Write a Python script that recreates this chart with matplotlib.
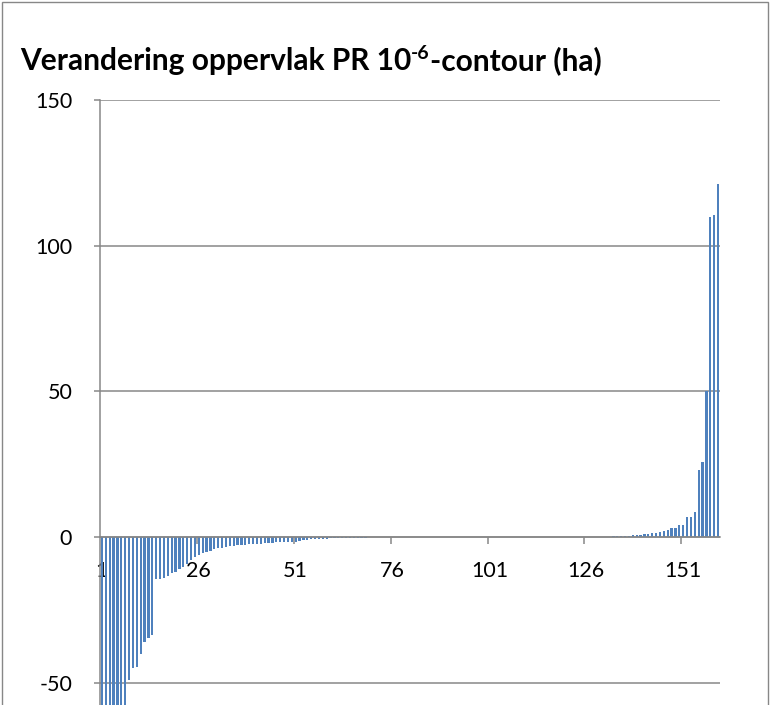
import matplotlib
matplotlib.use("Agg")
import matplotlib.pyplot as plt
from matplotlib.patches import Rectangle

# ---- data -------------------------------------------------------------
neg_values = [
    -118, -104, -92, -85, -76, -68, -61,
    -49.0, -45.0, -44.5, -40.0, -36.0, -34.6, -33.6,
    -14.4, -14.3, -14.0, -13.4, -12.4, -11.9, -11.0, -10.2, -9.3, -7.9,
    -6.7, -6.2, -5.6, -5.0, -4.7, -4.2, -3.8, -3.7, -3.3, -3.1,
    -2.9, -2.7, -2.7, -2.6, -2.5, -2.4, -2.3, -2.2, -2.1, -2.0,
    -1.9, -1.8, -1.8, -1.7, -1.6, -1.5,
    -1.5, -1.2, -1.0, -0.9, -0.8, -0.7, -0.6, -0.5, -0.5, -0.4,
    -0.4, -0.35, -0.3, -0.3, -0.25, -0.2, -0.2, -0.15, -0.15, -0.1,
    -0.1, -0.08, -0.05,
]
zero_values = [
    0, 0, 0, 0, 0, 0, 0, 0, 0, 0, 0, 0, 0, 0,
    0, 0, 0, 0, 0, 0, 0, 0, 0, 0, 0, 0, 0, 0,
    0, 0, 0, 0, 0, 0, 0, 0, 0, 0, 0, 0, 0, 0,
    0, 0, 0, 0, 0, 0, 0, 0, 0, 0, 0, 0, 0, 0,
]
pos_values = [
    0.1, 0.15, 0.2, 0.25, 0.3, 0.35, 0.4, 0.5, 0.6, 0.7,
    0.8, 1.0, 1.15, 1.4, 1.4, 1.6, 2.05, 2.4, 3.0, 3.0,
    4.0, 4.0, 6.8, 6.8, 8.7, 23.0, 25.8, 50.1, 110.0, 110.4, 121.1,
]
values = neg_values + zero_values + pos_values
categories = list(range(1, len(values) + 1))
xtick_labels = ["1", "26", "51", "76", "101", "126", "151"]
ytick_values = [-50, 0, 50, 100, 150]

# ---- style ------------------------------------------------------------
W, H = 770, 705
FONT = ["Lato", "DejaVu Sans"]
BAR = "#4F81BD"
GRID = "#878787"

fig = plt.figure(figsize=(W / 100, H / 100), dpi=100)
ax = fig.add_axes([100 / W, 0.0, 620 / W, (H - 100) / H])

ax.bar(categories, values, width=0.55, color=BAR, zorder=3, linewidth=0)
ax.set_xlim(0.5, len(values) + 0.5)
ax.set_ylim(-57.6, 150)

ax.set_yticks(ytick_values)
ax.set_yticklabels([str(v) for v in ytick_values], fontsize=15.5, family=FONT)
ax.yaxis.grid(True, color=GRID, linewidth=1.1, zorder=1)
ax.set_axisbelow(True)

# x axis at zero
ax.spines["bottom"].set_position(("data", 0))
for s in ["top", "right"]:
    ax.spines[s].set_visible(False)
for s in ["bottom", "left"]:
    ax.spines[s].set_color(GRID)
    ax.spines[s].set_linewidth(1.1)
    ax.spines[s].set_zorder(4)

# tick marks at category boundaries, labels at category centres
label_pos = [int(t) for t in xtick_labels]
ax.set_xticks([p - 0.5 for p in label_pos[1:]])
ax.set_xticklabels([])
ax.set_xticks(label_pos, minor=True)
ax.set_xticklabels(xtick_labels, minor=True, fontsize=15.5, family=FONT)
ax.tick_params(axis="x", which="major", direction="out", length=5, width=1.1, color=GRID)
ax.tick_params(axis="x", which="minor", length=0, pad=17.5)
ax.tick_params(axis="y", direction="out", length=4, width=1.1, color=GRID, pad=16)

# chart-area border
fig.patches.append(Rectangle((1.5 / W, -0.01), (W - 3.5) / W, 1.0 + 0.01 - 1.5 / H,
                             transform=fig.transFigure, fill=False,
                             edgecolor=GRID, linewidth=1.0))

# title with superscript
ty = 1 - 70 / H
t1 = fig.text(20 / W, ty, "Verandering oppervlak PR 10", fontsize=21.5,
              fontweight="bold", family=FONT, va="baseline")
fig.canvas.draw()
r = fig.canvas.get_renderer()
bb1 = t1.get_window_extent(r)
t2 = fig.text(bb1.x1 / W, ty + 11 / H, "-6", fontsize=14, fontweight="bold",
              family=FONT, va="baseline")
bb2 = t2.get_window_extent(r)
fig.text(bb2.x1 / W, ty, "-contour (ha)", fontsize=21.5, fontweight="bold",
         family=FONT, va="baseline")

fig.savefig("out.png", dpi=100)
